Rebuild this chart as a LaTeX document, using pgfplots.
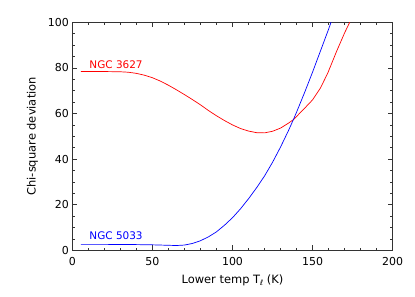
\documentclass[border=0pt]{standalone}
\usepackage{fontspec}
\setmainfont{DejaVu Sans}
\usepackage{pgfplots}
\pgfplotsset{compat=1.18}
\begin{document}
\begin{tikzpicture}
\begin{axis}[
  scale only axis,
  width=320.4bp, height=228bp,
  xmin=0, xmax=200, ymin=0, ymax=100,
  xtick={0,50,100,150,200}, ytick={0,20,40,60,80,100},
  minor x tick num=4, minor y tick num=3,
  tick align=inside, tick pos=both,
  major tick length=5bp, minor tick length=2.5bp,
  axis line style={line width=0.8bp, black!80},
  every tick/.style={black!80, line width=0.6bp},
  /pgf/number format/assume math mode=true,
  tick label style={font=\fontsize{11}{13}\selectfont},
  label style={font=\fontsize{11.5}{13}\selectfont},
  xlabel={Lower temp T\raisebox{-0.35ex}{\fontsize{7.5}{8}\selectfont ℓ} (K)},
  ylabel={Chi-square deviation},
  xticklabel style={yshift=-4bp},
  xlabel style={yshift=-2bp},
  ylabel style={yshift=3bp},
  clip=true,
]
\addplot[red, line width=0.7bp] coordinates {
(5.4,78.4) (10,78.4) (20,78.4) (30,78.3) (35,78.1) (40,77.6) (45,76.8) (50,75.7)
(55,74.2) (60,72.4) (65,70.4) (70,68.3) (75,66.1) (80,63.8) (85,61.3) (90,59.0)
(95,56.9) (100,55.0) (105,53.4) (110,52.3) (115,51.6) (120,51.5) (125,52.2)
(130,53.6) (135,55.8) (138,57.3) (140,58.7) (145,62.3) (150,66.0) (155,71.3)
(159.5,77.8) (165,87.3) (170,95.4) (173.5,100.5)
};
\addplot[blue, line width=0.7bp] coordinates {
(5.4,2.6) (20,2.6) (40,2.5) (50,2.4) (60,2.2) (65,2.1) (70,2.3) (75,3.0) (80,4.2)
(85,5.9) (90,8.1) (95,11.0) (100,14.3) (105,18.2) (110,22.6) (115,27.4)
(120,32.6) (125,38.6) (130,45.3) (135,52.6) (138,57.3) (140,60.6) (145,69.2)
(150,78.2) (155,87.6) (160,97.0) (162.5,102)
};
\node[red, anchor=west, font=\fontsize{10.5}{12}\selectfont, inner sep=0pt] at (axis cs:10.6,81.6) {NGC 3627};
\node[blue, anchor=west, font=\fontsize{10.5}{12}\selectfont, inner sep=0pt] at (axis cs:10.6,6.3) {NGC 5033};
\end{axis}
\pgfresetboundingbox
\path (-72.3bp,-46.7bp) rectangle (342.7bp,250.3bp);
\end{tikzpicture}
\end{document}
